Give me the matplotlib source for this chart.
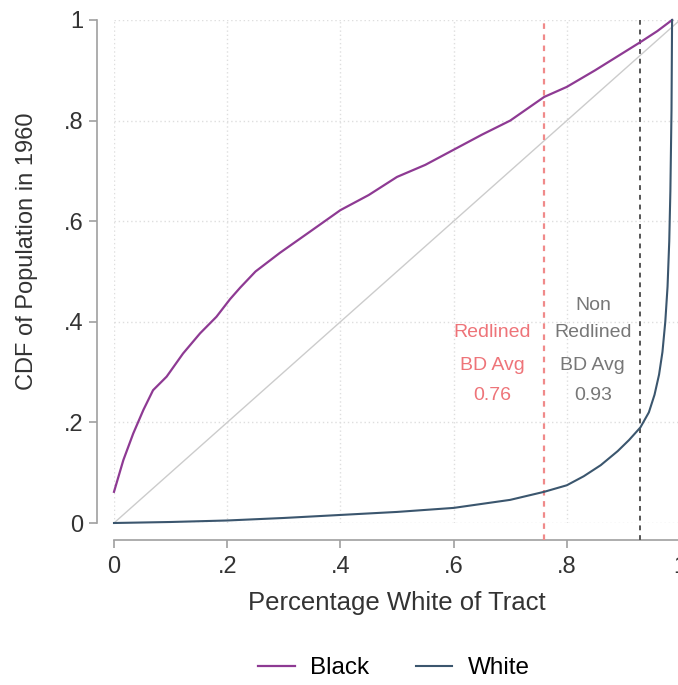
import matplotlib
matplotlib.use('Agg')
import matplotlib.pyplot as plt
import numpy as np

plt.rcParams['font.family'] = ['Liberation Sans', 'DejaVu Sans']

# CDF of Black population by tract share white
black_x = [0.0, 0.0165, 0.034, 0.052, 0.069, 0.093, 0.122, 0.152, 0.181, 0.205, 0.223,
           0.25, 0.293, 0.346, 0.4, 0.45, 0.5, 0.55, 0.6, 0.65, 0.7, 0.76,
           0.8, 0.85, 0.9, 0.93, 0.96, 0.986]
black_y = [0.062, 0.125, 0.178, 0.225, 0.264, 0.291, 0.337, 0.377, 0.41, 0.445, 0.468,
           0.50, 0.537, 0.579, 0.622, 0.652, 0.688, 0.712, 0.742, 0.772, 0.80, 0.847,
           0.867, 0.90, 0.935, 0.956, 0.978, 1.0]

# CDF of White population
white_x = [0.0, 0.1, 0.2, 0.3, 0.4, 0.5, 0.6, 0.7, 0.76, 0.8, 0.83, 0.86, 0.89,
           0.91, 0.93, 0.945, 0.955, 0.963, 0.969, 0.974, 0.978, 0.981, 0.983, 0.985, 0.986]
white_y = [0.0, 0.002, 0.005, 0.01, 0.016, 0.022, 0.03, 0.046, 0.062, 0.075, 0.093,
           0.115, 0.143, 0.165, 0.19, 0.22, 0.255, 0.295, 0.34, 0.40, 0.47, 0.56,
           0.66, 0.82, 1.0]

redlined_avg = 0.76
nonredlined_avg = 0.93
ticks = [0, 0.2, 0.4, 0.6, 0.8, 1]
tick_labels = ['0', '.2', '.4', '.6', '.8', '1']

fig = plt.figure(figsize=(6.78, 6.85), dpi=100)
W, H = 678, 685
ax = fig.add_axes([114 / W, (H - 523) / H, (680 - 114) / W, (523 - 20) / H])

ax.set_xlim(0, 1)
ax.set_ylim(0, 1)

ax.plot([0, 1], [0, 1], color='#cccccc', lw=1.0, zorder=2)
ax.plot(black_x, black_y, color='#8e3a93', lw=1.6, label='Black', zorder=4, clip_on=False)
ax.plot(white_x, white_y, color='#3b566e', lw=1.5, label='White', zorder=4, clip_on=False)

ax.axvline(redlined_avg, ymin=-0.034, ymax=1.0, color='#f08a8a', lw=1.6,
           ls=(0, (2.5, 2.5)), clip_on=False, zorder=3)
ax.axvline(nonredlined_avg, ymin=-0.034, ymax=1.0, color='#555555', lw=1.4,
           ls=(0, (2.5, 2.5)), clip_on=False, zorder=3)

red_txt = '#ee7479'
grey_txt = '#777777'
fs_ann = 14
for txt, yy in [('Redlined', 0.378), ('BD Avg', 0.314), ('0.76', 0.254)]:
    ax.text(0.668, yy, txt, color=red_txt, fontsize=fs_ann, ha='center', va='center')
for txt, yy in [('Non', 0.433), ('Redlined', 0.378), ('BD Avg', 0.314), ('0.93', 0.254)]:
    ax.text(0.846, yy, txt, color=grey_txt, fontsize=fs_ann, ha='center', va='center')

# Stata-like axes
ax.set_xticks(ticks)
ax.set_xticklabels(tick_labels)
ax.set_yticks(ticks)
ax.set_yticklabels(tick_labels)
ax.grid(True, color='#dedede', lw=1.0, ls=(0, (1, 2)), zorder=0)
for s in ['top', 'right']:
    ax.spines[s].set_visible(False)
for s in ['left', 'bottom']:
    ax.spines[s].set_position(('outward', 12))
    ax.spines[s].set_color('#a0a0a0')
    ax.spines[s].set_linewidth(1.2)
ax.tick_params(axis='both', colors='#a0a0a0', length=6, width=1.2,
               labelsize=17, labelcolor='#333333')
ax.tick_params(axis='x', pad=6)
ax.tick_params(axis='y', pad=4)

ax.set_xlabel('Percentage White of Tract', fontsize=18.5, color='#333333', va='center')
ax.xaxis.set_label_coords((397 - 114) / 566, (523 - 603) / 503)
ax.set_ylabel('CDF of Population in 1960', fontsize=17, color='#333333', va='center')
ax.yaxis.set_label_coords((27 - 114) / 566, (523 - 251) / 503)

fig.legend(loc='center', bbox_to_anchor=(394 / W, (H - 668) / H), ncol=2, frameon=False,
           fontsize=17.5, handlelength=1.5, columnspacing=1.9, handletextpad=0.65)

fig.savefig('out.png', dpi=100)
